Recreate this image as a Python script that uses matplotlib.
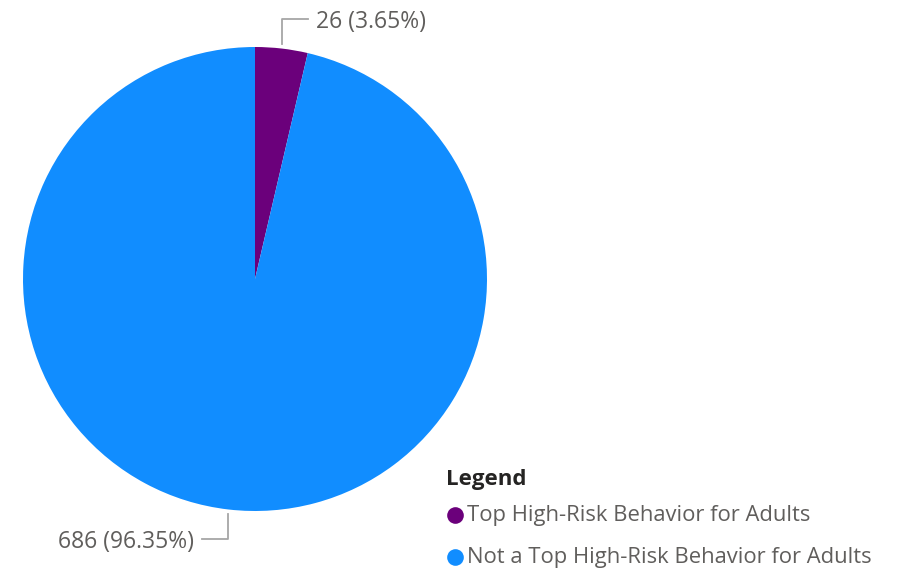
import numpy as np
import matplotlib.pyplot as plt
from matplotlib.lines import Line2D

# data
categories = ['Top High-Risk Behavior for Adults', 'Not a Top High-Risk Behavior for Adults']
counts = [26, 686]
percents = ['3.65%', '96.35%']
colors = ['#6B007B', '#118DFF']

plt.rcParams['font.family'] = ['Open Sans', 'DejaVu Sans']

W, H = 902, 570
fig = plt.figure(figsize=(W / 100, H / 100), dpi=100)

# pie axes: centre (255, 279) px, radius 232 px
cx, cy, r = 255, 279, 232
ax = fig.add_axes([(cx - r) / W, (H - cy - r) / H, 2 * r / W, 2 * r / H])
wedges, _ = ax.pie(counts, colors=colors, startangle=90, counterclock=False,
                   radius=1, wedgeprops=dict(linewidth=0))
ax.set_xlim(-1, 1)
ax.set_ylim(-1, 1)
ax.axis('off')

lc = '#A6A6A6'
tc = '#605E5C'
# leader lines + labels
for i, w in enumerate(wedges):
    ang = np.deg2rad((w.theta1 + w.theta2) / 2)
    x0, y0 = 1.02 * np.cos(ang), 1.02 * np.sin(ang)
    lab = f'{counts[i]} ({percents[i]})'
    if y0 > 0:
        y1 = 1.12
        x1 = x0 + 0.11
        ax.plot([x0, x0, x1], [y0, y1, y1], color=lc, lw=1.3, clip_on=False)
        ax.text(x1 + 0.035, y1 - 0.012, lab, ha='left', va='center', fontsize=16.5, color=tc)
    else:
        y1 = -1.12
        x1 = x0 - 0.11
        ax.plot([x0, x0, x1], [y0, y1, y1], color=lc, lw=1.3, clip_on=False)
        ax.text(x1 - 0.035, y1 - 0.012, lab, ha='right', va='center', fontsize=16.5, color=tc)

# legend, placed by hand
fig.text(446 / W, 1 - 479 / H, 'Legend', ha='left', va='center',
         fontsize=16, fontweight='bold', color='#252423')
for i, (c, name) in enumerate(zip(colors, categories)):
    yy = 1 - (515 + 42 * i) / H
    fig.add_artist(Line2D([455 / W], [yy], marker='o', markersize=12,
                          markerfacecolor=c, markeredgewidth=0, linestyle='',
                          transform=fig.transFigure))
    fig.text(467 / W, yy, name, ha='left', va='center', fontsize=15.8, color=tc)

fig.savefig('out.png', dpi=100)
